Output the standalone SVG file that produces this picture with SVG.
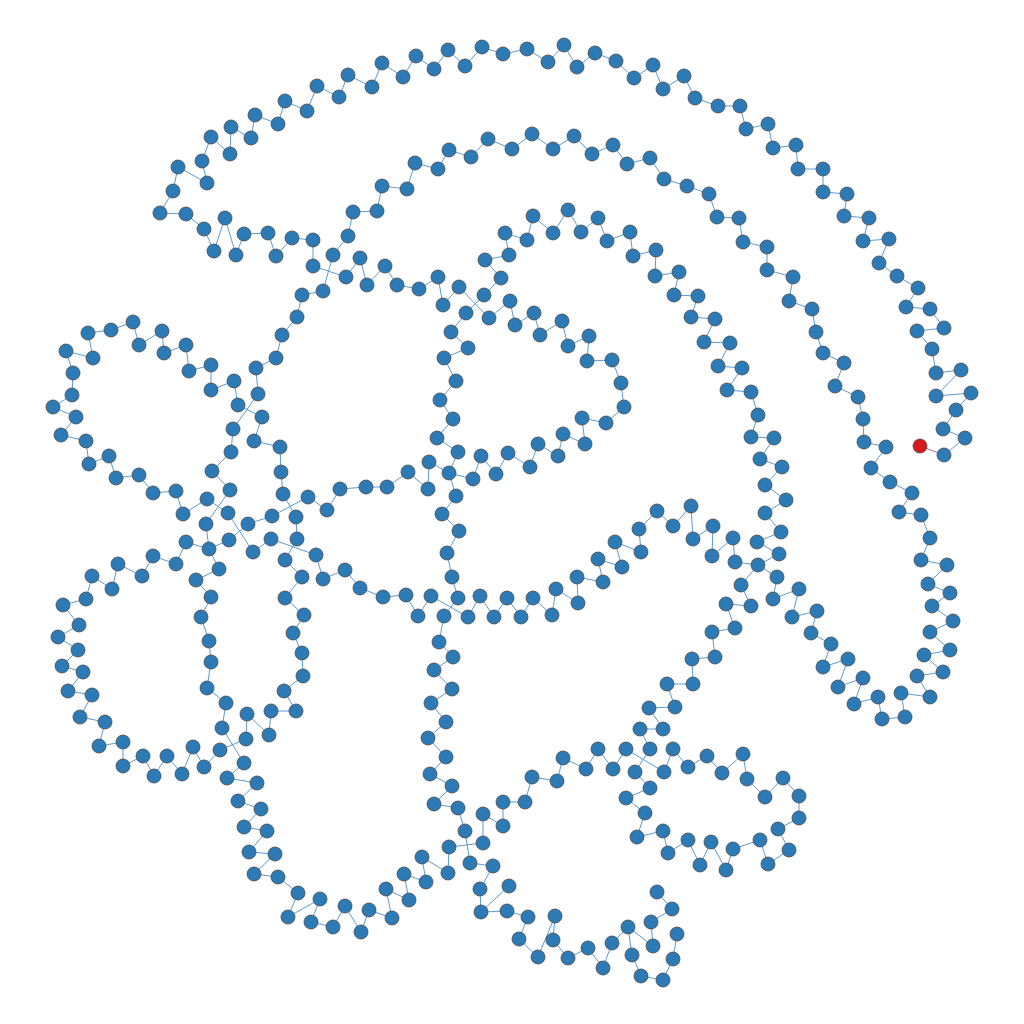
<svg xmlns="http://www.w3.org/2000/svg" width="1024" height="1024" viewBox="0 0 1024 1024">
<style>
.edges polyline,.edges line{fill:none;stroke:#5b9bd2;stroke-width:1}
.edges .hot{stroke:#a8708c}
.nodes circle{fill:#2c7bb6;stroke:#474747;stroke-width:0.8}
.nodes .red circle{fill:#d7191c}
</style>
<rect width="1024" height="1024" fill="#ffffff"/>
<g id="connectors" class="edges">
<line class="hot" x1="920" y1="446" x2="944" y2="455"/>
<polyline points="944,455 965,438 943,429 956,410 971,393 936,396 961,370 936,373 932,349 917,331 944,328 930,309 906,307 918,288 897,276 879,263 889,239 863,241 869,218 844,216 847,194 823,192 823,169 798,169 796,145 773,148 768,124 746,129 740,106 718,106 695,98 684,76 663,89 653,65 634,78 616,61 595,53 577,67 564,45 548,62 527,49 503,54 482,47 465,66 448,50 434,69 416,56 403,77 382,63 372,87 348,75 339,97 317,86 307,111 285,101 278,124 255,115 251,138 231,127 230,154 211,137 202,161 207,183 178,167 173,191 160,213 186,214 204,229 214,251 225,218 236,255 244,234 268,233 276,256 292,238 313,240 313,266 346,277 360,258 367,285 385,266 397,285 419,289 438,277 443,305 459,287 489,318 510,301 515,325 534,313 540,335 562,321 568,346 589,336 587,361 612,360 621,383 624,407 606,423 582,418 585,444 563,434 558,456 538,444 530,467 508,453 496,474 481,456 473,479 449,473"/>
<polyline points="466,313 451,332 468,348 444,358 456,381 440,400 453,419 437,438 458,452 449,473 456,496 442,514 459,531 447,553 452,577 458,598 444,616 439,642 453,657 434,670 452,689 431,703 446,722 428,738 446,757 430,774 452,786 434,804 458,808 465,831 470,863 493,866 480,889 481,912 507,911 528,917 519,939 538,957 555,916 553,940 568,958 588,948 603,968 612,943 628,927 653,946 651,922 672,909 657,892"/>
<polyline points="628,927 632,955 641,976 663,980 673,959 677,934"/>
<polyline points="481,912 509,886"/>
<polyline points="466,313 484,295 501,278 485,260 509,255 505,233 527,240 533,216 553,233 568,210 581,232 598,218 607,241 630,232 633,256 656,250 655,276 679,272 674,295 698,296 691,317 715,319 704,342 730,343 718,366 742,368 727,390 751,392 758,415 751,437 774,438 760,459 782,467 765,485 786,500 765,513 781,532 757,542 779,554 758,565 777,577 773,599 799,589 792,617 817,611 811,633 831,644 823,667 848,659 838,687 863,678 854,704 878,697 882,719 905,717 901,693 930,697 917,676 943,672 924,655 950,650 930,632 953,621 932,606 950,593 928,584 947,565 921,560 930,538 921,515 899,512 912,493 890,482 871,468 886,447 864,442 863,419 858,397 835,386 844,363 823,353 816,332 812,309 789,301 793,277 767,270 767,247 743,242 739,218 717,217 709,194 687,186 664,179 650,158 627,164 613,145 592,154 574,136 553,149 532,134 512,149 488,139 471,157 449,150 438,169 415,163 407,189 382,186 377,211 353,212 348,236 333,255 323,291 302,295 297,317 282,335 276,358 256,368 258,394 233,429 231,452 212,471 230,490 206,524 209,549 219,569 196,580 211,597 201,617 209,641 211,662 207,688 226,703 222,728 244,763 227,778 257,783 238,801 261,809 244,827 267,831 249,852 275,854 254,874 278,877 298,893 288,917 320,899 311,922 333,927 345,906 361,932 369,910 392,918 386,889 409,900 404,874 426,882 422,857 448,873 449,847 483,843 483,814 503,826 503,802 525,802 532,777 557,781 563,758 586,769 598,749 613,769 626,749 664,772 673,749 688,767 707,756 722,773 743,754 747,779 765,797 783,778 799,796 799,818 778,829 789,850 768,864 760,840 733,849 726,870 711,842 700,865 688,840 668,853 663,831 637,837 645,813 626,798 650,788 635,772 650,749 640,729 663,729 649,708 675,707 667,684 693,684 692,659 715,657 712,632 735,628 726,604 751,606 741,585 758,565"/>
<polyline points="88,333 111,330 133,322 139,345 162,331 164,353 186,345 189,371 211,365 211,390 234,381 238,405 262,417 254,441 280,447 281,472 283,494 296,517 297,539 285,560 302,577 285,598 304,615 293,633 302,653 303,676 284,691 296,711 271,711 269,735 247,714 246,739 220,750 204,767 193,747 182,774 167,756 154,776 143,756 123,766 123,742 99,746 105,722 80,717 92,695 68,691 83,672 62,666 78,650 58,637 79,625 63,605 86,599 92,576 112,589 118,564 142,576 153,556 176,564 186,542 209,549 229,540 248,524 272,516 308,497 327,510 340,489 366,487 387,487 408,472 428,489 429,462 449,473"/>
<polyline points="88,333 93,358 66,351 73,373 72,395 53,407 76,417 61,435 86,441 89,464 109,456 116,478 139,475 153,493 176,491 183,514 207,499 228,513 253,552 271,539 316,555 323,579 345,570 360,588 383,597 406,595 418,616 431,596 468,617 480,596 494,617 507,598 521,617 533,598 552,615 556,589 578,603 577,577 603,582 598,559 622,567 615,542 641,552 639,529 657,511 673,526 691,506 693,539 713,526 712,556 733,538 735,562 758,565"/>
</g>
<g id="nodes" class="nodes">
<g id="n0" class="red"><circle cx="920" cy="446" r="7"/></g>
<g id="n1"><circle cx="944" cy="455" r="7"/></g>
<g id="n2"><circle cx="965" cy="438" r="7"/></g>
<g id="n3"><circle cx="943" cy="429" r="7"/></g>
<g id="n4"><circle cx="956" cy="410" r="7"/></g>
<g id="n5"><circle cx="971" cy="393" r="7"/></g>
<g id="n6"><circle cx="936" cy="396" r="7"/></g>
<g id="n7"><circle cx="961" cy="370" r="7"/></g>
<g id="n8"><circle cx="936" cy="373" r="7"/></g>
<g id="n9"><circle cx="932" cy="349" r="7"/></g>
<g id="n10"><circle cx="917" cy="331" r="7"/></g>
<g id="n11"><circle cx="944" cy="328" r="7"/></g>
<g id="n12"><circle cx="930" cy="309" r="7"/></g>
<g id="n13"><circle cx="906" cy="307" r="7"/></g>
<g id="n14"><circle cx="918" cy="288" r="7"/></g>
<g id="n15"><circle cx="897" cy="276" r="7"/></g>
<g id="n16"><circle cx="879" cy="263" r="7"/></g>
<g id="n17"><circle cx="889" cy="239" r="7"/></g>
<g id="n18"><circle cx="863" cy="241" r="7"/></g>
<g id="n19"><circle cx="869" cy="218" r="7"/></g>
<g id="n20"><circle cx="844" cy="216" r="7"/></g>
<g id="n21"><circle cx="847" cy="194" r="7"/></g>
<g id="n22"><circle cx="823" cy="192" r="7"/></g>
<g id="n23"><circle cx="823" cy="169" r="7"/></g>
<g id="n24"><circle cx="798" cy="169" r="7"/></g>
<g id="n25"><circle cx="796" cy="145" r="7"/></g>
<g id="n26"><circle cx="773" cy="148" r="7"/></g>
<g id="n27"><circle cx="768" cy="124" r="7"/></g>
<g id="n28"><circle cx="746" cy="129" r="7"/></g>
<g id="n29"><circle cx="740" cy="106" r="7"/></g>
<g id="n30"><circle cx="718" cy="106" r="7"/></g>
<g id="n31"><circle cx="695" cy="98" r="7"/></g>
<g id="n32"><circle cx="684" cy="76" r="7"/></g>
<g id="n33"><circle cx="663" cy="89" r="7"/></g>
<g id="n34"><circle cx="653" cy="65" r="7"/></g>
<g id="n35"><circle cx="634" cy="78" r="7"/></g>
<g id="n36"><circle cx="616" cy="61" r="7"/></g>
<g id="n37"><circle cx="595" cy="53" r="7"/></g>
<g id="n38"><circle cx="577" cy="67" r="7"/></g>
<g id="n39"><circle cx="564" cy="45" r="7"/></g>
<g id="n40"><circle cx="548" cy="62" r="7"/></g>
<g id="n41"><circle cx="527" cy="49" r="7"/></g>
<g id="n42"><circle cx="503" cy="54" r="7"/></g>
<g id="n43"><circle cx="482" cy="47" r="7"/></g>
<g id="n44"><circle cx="465" cy="66" r="7"/></g>
<g id="n45"><circle cx="448" cy="50" r="7"/></g>
<g id="n46"><circle cx="434" cy="69" r="7"/></g>
<g id="n47"><circle cx="416" cy="56" r="7"/></g>
<g id="n48"><circle cx="403" cy="77" r="7"/></g>
<g id="n49"><circle cx="382" cy="63" r="7"/></g>
<g id="n50"><circle cx="372" cy="87" r="7"/></g>
<g id="n51"><circle cx="348" cy="75" r="7"/></g>
<g id="n52"><circle cx="339" cy="97" r="7"/></g>
<g id="n53"><circle cx="317" cy="86" r="7"/></g>
<g id="n54"><circle cx="307" cy="111" r="7"/></g>
<g id="n55"><circle cx="285" cy="101" r="7"/></g>
<g id="n56"><circle cx="278" cy="124" r="7"/></g>
<g id="n57"><circle cx="255" cy="115" r="7"/></g>
<g id="n58"><circle cx="251" cy="138" r="7"/></g>
<g id="n59"><circle cx="231" cy="127" r="7"/></g>
<g id="n60"><circle cx="230" cy="154" r="7"/></g>
<g id="n61"><circle cx="211" cy="137" r="7"/></g>
<g id="n62"><circle cx="202" cy="161" r="7"/></g>
<g id="n63"><circle cx="207" cy="183" r="7"/></g>
<g id="n64"><circle cx="178" cy="167" r="7"/></g>
<g id="n65"><circle cx="173" cy="191" r="7"/></g>
<g id="n66"><circle cx="160" cy="213" r="7"/></g>
<g id="n67"><circle cx="186" cy="214" r="7"/></g>
<g id="n68"><circle cx="204" cy="229" r="7"/></g>
<g id="n69"><circle cx="214" cy="251" r="7"/></g>
<g id="n70"><circle cx="225" cy="218" r="7"/></g>
<g id="n71"><circle cx="236" cy="255" r="7"/></g>
<g id="n72"><circle cx="244" cy="234" r="7"/></g>
<g id="n73"><circle cx="268" cy="233" r="7"/></g>
<g id="n74"><circle cx="276" cy="256" r="7"/></g>
<g id="n75"><circle cx="292" cy="238" r="7"/></g>
<g id="n76"><circle cx="313" cy="240" r="7"/></g>
<g id="n77"><circle cx="313" cy="266" r="7"/></g>
<g id="n78"><circle cx="346" cy="277" r="7"/></g>
<g id="n79"><circle cx="360" cy="258" r="7"/></g>
<g id="n80"><circle cx="367" cy="285" r="7"/></g>
<g id="n81"><circle cx="385" cy="266" r="7"/></g>
<g id="n82"><circle cx="397" cy="285" r="7"/></g>
<g id="n83"><circle cx="419" cy="289" r="7"/></g>
<g id="n84"><circle cx="438" cy="277" r="7"/></g>
<g id="n85"><circle cx="443" cy="305" r="7"/></g>
<g id="n86"><circle cx="459" cy="287" r="7"/></g>
<g id="n87"><circle cx="489" cy="318" r="7"/></g>
<g id="n88"><circle cx="510" cy="301" r="7"/></g>
<g id="n89"><circle cx="515" cy="325" r="7"/></g>
<g id="n90"><circle cx="534" cy="313" r="7"/></g>
<g id="n91"><circle cx="540" cy="335" r="7"/></g>
<g id="n92"><circle cx="562" cy="321" r="7"/></g>
<g id="n93"><circle cx="568" cy="346" r="7"/></g>
<g id="n94"><circle cx="589" cy="336" r="7"/></g>
<g id="n95"><circle cx="587" cy="361" r="7"/></g>
<g id="n96"><circle cx="612" cy="360" r="7"/></g>
<g id="n97"><circle cx="621" cy="383" r="7"/></g>
<g id="n98"><circle cx="624" cy="407" r="7"/></g>
<g id="n99"><circle cx="606" cy="423" r="7"/></g>
<g id="n100"><circle cx="582" cy="418" r="7"/></g>
<g id="n101"><circle cx="585" cy="444" r="7"/></g>
<g id="n102"><circle cx="563" cy="434" r="7"/></g>
<g id="n103"><circle cx="558" cy="456" r="7"/></g>
<g id="n104"><circle cx="538" cy="444" r="7"/></g>
<g id="n105"><circle cx="530" cy="467" r="7"/></g>
<g id="n106"><circle cx="508" cy="453" r="7"/></g>
<g id="n107"><circle cx="496" cy="474" r="7"/></g>
<g id="n108"><circle cx="481" cy="456" r="7"/></g>
<g id="n109"><circle cx="473" cy="479" r="7"/></g>
<g id="n110"><circle cx="449" cy="473" r="7"/></g>
<g id="n111"><circle cx="466" cy="313" r="7"/></g>
<g id="n112"><circle cx="451" cy="332" r="7"/></g>
<g id="n113"><circle cx="468" cy="348" r="7"/></g>
<g id="n114"><circle cx="444" cy="358" r="7"/></g>
<g id="n115"><circle cx="456" cy="381" r="7"/></g>
<g id="n116"><circle cx="440" cy="400" r="7"/></g>
<g id="n117"><circle cx="453" cy="419" r="7"/></g>
<g id="n118"><circle cx="437" cy="438" r="7"/></g>
<g id="n119"><circle cx="458" cy="452" r="7"/></g>
<g id="n120"><circle cx="456" cy="496" r="7"/></g>
<g id="n121"><circle cx="442" cy="514" r="7"/></g>
<g id="n122"><circle cx="459" cy="531" r="7"/></g>
<g id="n123"><circle cx="447" cy="553" r="7"/></g>
<g id="n124"><circle cx="452" cy="577" r="7"/></g>
<g id="n125"><circle cx="458" cy="598" r="7"/></g>
<g id="n126"><circle cx="444" cy="616" r="7"/></g>
<g id="n127"><circle cx="439" cy="642" r="7"/></g>
<g id="n128"><circle cx="453" cy="657" r="7"/></g>
<g id="n129"><circle cx="434" cy="670" r="7"/></g>
<g id="n130"><circle cx="452" cy="689" r="7"/></g>
<g id="n131"><circle cx="431" cy="703" r="7"/></g>
<g id="n132"><circle cx="446" cy="722" r="7"/></g>
<g id="n133"><circle cx="428" cy="738" r="7"/></g>
<g id="n134"><circle cx="446" cy="757" r="7"/></g>
<g id="n135"><circle cx="430" cy="774" r="7"/></g>
<g id="n136"><circle cx="452" cy="786" r="7"/></g>
<g id="n137"><circle cx="434" cy="804" r="7"/></g>
<g id="n138"><circle cx="458" cy="808" r="7"/></g>
<g id="n139"><circle cx="465" cy="831" r="7"/></g>
<g id="n140"><circle cx="470" cy="863" r="7"/></g>
<g id="n141"><circle cx="493" cy="866" r="7"/></g>
<g id="n142"><circle cx="480" cy="889" r="7"/></g>
<g id="n143"><circle cx="481" cy="912" r="7"/></g>
<g id="n144"><circle cx="507" cy="911" r="7"/></g>
<g id="n145"><circle cx="528" cy="917" r="7"/></g>
<g id="n146"><circle cx="519" cy="939" r="7"/></g>
<g id="n147"><circle cx="538" cy="957" r="7"/></g>
<g id="n148"><circle cx="555" cy="916" r="7"/></g>
<g id="n149"><circle cx="553" cy="940" r="7"/></g>
<g id="n150"><circle cx="568" cy="958" r="7"/></g>
<g id="n151"><circle cx="588" cy="948" r="7"/></g>
<g id="n152"><circle cx="603" cy="968" r="7"/></g>
<g id="n153"><circle cx="612" cy="943" r="7"/></g>
<g id="n154"><circle cx="628" cy="927" r="7"/></g>
<g id="n155"><circle cx="653" cy="946" r="7"/></g>
<g id="n156"><circle cx="651" cy="922" r="7"/></g>
<g id="n157"><circle cx="672" cy="909" r="7"/></g>
<g id="n158"><circle cx="657" cy="892" r="7"/></g>
<g id="n159"><circle cx="632" cy="955" r="7"/></g>
<g id="n160"><circle cx="641" cy="976" r="7"/></g>
<g id="n161"><circle cx="663" cy="980" r="7"/></g>
<g id="n162"><circle cx="673" cy="959" r="7"/></g>
<g id="n163"><circle cx="677" cy="934" r="7"/></g>
<g id="n164"><circle cx="509" cy="886" r="7"/></g>
<g id="n165"><circle cx="484" cy="295" r="7"/></g>
<g id="n166"><circle cx="501" cy="278" r="7"/></g>
<g id="n167"><circle cx="485" cy="260" r="7"/></g>
<g id="n168"><circle cx="509" cy="255" r="7"/></g>
<g id="n169"><circle cx="505" cy="233" r="7"/></g>
<g id="n170"><circle cx="527" cy="240" r="7"/></g>
<g id="n171"><circle cx="533" cy="216" r="7"/></g>
<g id="n172"><circle cx="553" cy="233" r="7"/></g>
<g id="n173"><circle cx="568" cy="210" r="7"/></g>
<g id="n174"><circle cx="581" cy="232" r="7"/></g>
<g id="n175"><circle cx="598" cy="218" r="7"/></g>
<g id="n176"><circle cx="607" cy="241" r="7"/></g>
<g id="n177"><circle cx="630" cy="232" r="7"/></g>
<g id="n178"><circle cx="633" cy="256" r="7"/></g>
<g id="n179"><circle cx="656" cy="250" r="7"/></g>
<g id="n180"><circle cx="655" cy="276" r="7"/></g>
<g id="n181"><circle cx="679" cy="272" r="7"/></g>
<g id="n182"><circle cx="674" cy="295" r="7"/></g>
<g id="n183"><circle cx="698" cy="296" r="7"/></g>
<g id="n184"><circle cx="691" cy="317" r="7"/></g>
<g id="n185"><circle cx="715" cy="319" r="7"/></g>
<g id="n186"><circle cx="704" cy="342" r="7"/></g>
<g id="n187"><circle cx="730" cy="343" r="7"/></g>
<g id="n188"><circle cx="718" cy="366" r="7"/></g>
<g id="n189"><circle cx="742" cy="368" r="7"/></g>
<g id="n190"><circle cx="727" cy="390" r="7"/></g>
<g id="n191"><circle cx="751" cy="392" r="7"/></g>
<g id="n192"><circle cx="758" cy="415" r="7"/></g>
<g id="n193"><circle cx="751" cy="437" r="7"/></g>
<g id="n194"><circle cx="774" cy="438" r="7"/></g>
<g id="n195"><circle cx="760" cy="459" r="7"/></g>
<g id="n196"><circle cx="782" cy="467" r="7"/></g>
<g id="n197"><circle cx="765" cy="485" r="7"/></g>
<g id="n198"><circle cx="786" cy="500" r="7"/></g>
<g id="n199"><circle cx="765" cy="513" r="7"/></g>
<g id="n200"><circle cx="781" cy="532" r="7"/></g>
<g id="n201"><circle cx="757" cy="542" r="7"/></g>
<g id="n202"><circle cx="779" cy="554" r="7"/></g>
<g id="n203"><circle cx="758" cy="565" r="7"/></g>
<g id="n204"><circle cx="777" cy="577" r="7"/></g>
<g id="n205"><circle cx="773" cy="599" r="7"/></g>
<g id="n206"><circle cx="799" cy="589" r="7"/></g>
<g id="n207"><circle cx="792" cy="617" r="7"/></g>
<g id="n208"><circle cx="817" cy="611" r="7"/></g>
<g id="n209"><circle cx="811" cy="633" r="7"/></g>
<g id="n210"><circle cx="831" cy="644" r="7"/></g>
<g id="n211"><circle cx="823" cy="667" r="7"/></g>
<g id="n212"><circle cx="848" cy="659" r="7"/></g>
<g id="n213"><circle cx="838" cy="687" r="7"/></g>
<g id="n214"><circle cx="863" cy="678" r="7"/></g>
<g id="n215"><circle cx="854" cy="704" r="7"/></g>
<g id="n216"><circle cx="878" cy="697" r="7"/></g>
<g id="n217"><circle cx="882" cy="719" r="7"/></g>
<g id="n218"><circle cx="905" cy="717" r="7"/></g>
<g id="n219"><circle cx="901" cy="693" r="7"/></g>
<g id="n220"><circle cx="930" cy="697" r="7"/></g>
<g id="n221"><circle cx="917" cy="676" r="7"/></g>
<g id="n222"><circle cx="943" cy="672" r="7"/></g>
<g id="n223"><circle cx="924" cy="655" r="7"/></g>
<g id="n224"><circle cx="950" cy="650" r="7"/></g>
<g id="n225"><circle cx="930" cy="632" r="7"/></g>
<g id="n226"><circle cx="953" cy="621" r="7"/></g>
<g id="n227"><circle cx="932" cy="606" r="7"/></g>
<g id="n228"><circle cx="950" cy="593" r="7"/></g>
<g id="n229"><circle cx="928" cy="584" r="7"/></g>
<g id="n230"><circle cx="947" cy="565" r="7"/></g>
<g id="n231"><circle cx="921" cy="560" r="7"/></g>
<g id="n232"><circle cx="930" cy="538" r="7"/></g>
<g id="n233"><circle cx="921" cy="515" r="7"/></g>
<g id="n234"><circle cx="899" cy="512" r="7"/></g>
<g id="n235"><circle cx="912" cy="493" r="7"/></g>
<g id="n236"><circle cx="890" cy="482" r="7"/></g>
<g id="n237"><circle cx="871" cy="468" r="7"/></g>
<g id="n238"><circle cx="886" cy="447" r="7"/></g>
<g id="n239"><circle cx="864" cy="442" r="7"/></g>
<g id="n240"><circle cx="863" cy="419" r="7"/></g>
<g id="n241"><circle cx="858" cy="397" r="7"/></g>
<g id="n242"><circle cx="835" cy="386" r="7"/></g>
<g id="n243"><circle cx="844" cy="363" r="7"/></g>
<g id="n244"><circle cx="823" cy="353" r="7"/></g>
<g id="n245"><circle cx="816" cy="332" r="7"/></g>
<g id="n246"><circle cx="812" cy="309" r="7"/></g>
<g id="n247"><circle cx="789" cy="301" r="7"/></g>
<g id="n248"><circle cx="793" cy="277" r="7"/></g>
<g id="n249"><circle cx="767" cy="270" r="7"/></g>
<g id="n250"><circle cx="767" cy="247" r="7"/></g>
<g id="n251"><circle cx="743" cy="242" r="7"/></g>
<g id="n252"><circle cx="739" cy="218" r="7"/></g>
<g id="n253"><circle cx="717" cy="217" r="7"/></g>
<g id="n254"><circle cx="709" cy="194" r="7"/></g>
<g id="n255"><circle cx="687" cy="186" r="7"/></g>
<g id="n256"><circle cx="664" cy="179" r="7"/></g>
<g id="n257"><circle cx="650" cy="158" r="7"/></g>
<g id="n258"><circle cx="627" cy="164" r="7"/></g>
<g id="n259"><circle cx="613" cy="145" r="7"/></g>
<g id="n260"><circle cx="592" cy="154" r="7"/></g>
<g id="n261"><circle cx="574" cy="136" r="7"/></g>
<g id="n262"><circle cx="553" cy="149" r="7"/></g>
<g id="n263"><circle cx="532" cy="134" r="7"/></g>
<g id="n264"><circle cx="512" cy="149" r="7"/></g>
<g id="n265"><circle cx="488" cy="139" r="7"/></g>
<g id="n266"><circle cx="471" cy="157" r="7"/></g>
<g id="n267"><circle cx="449" cy="150" r="7"/></g>
<g id="n268"><circle cx="438" cy="169" r="7"/></g>
<g id="n269"><circle cx="415" cy="163" r="7"/></g>
<g id="n270"><circle cx="407" cy="189" r="7"/></g>
<g id="n271"><circle cx="382" cy="186" r="7"/></g>
<g id="n272"><circle cx="377" cy="211" r="7"/></g>
<g id="n273"><circle cx="353" cy="212" r="7"/></g>
<g id="n274"><circle cx="348" cy="236" r="7"/></g>
<g id="n275"><circle cx="333" cy="255" r="7"/></g>
<g id="n276"><circle cx="323" cy="291" r="7"/></g>
<g id="n277"><circle cx="302" cy="295" r="7"/></g>
<g id="n278"><circle cx="297" cy="317" r="7"/></g>
<g id="n279"><circle cx="282" cy="335" r="7"/></g>
<g id="n280"><circle cx="276" cy="358" r="7"/></g>
<g id="n281"><circle cx="256" cy="368" r="7"/></g>
<g id="n282"><circle cx="258" cy="394" r="7"/></g>
<g id="n283"><circle cx="233" cy="429" r="7"/></g>
<g id="n284"><circle cx="231" cy="452" r="7"/></g>
<g id="n285"><circle cx="212" cy="471" r="7"/></g>
<g id="n286"><circle cx="230" cy="490" r="7"/></g>
<g id="n287"><circle cx="206" cy="524" r="7"/></g>
<g id="n288"><circle cx="209" cy="549" r="7"/></g>
<g id="n289"><circle cx="219" cy="569" r="7"/></g>
<g id="n290"><circle cx="196" cy="580" r="7"/></g>
<g id="n291"><circle cx="211" cy="597" r="7"/></g>
<g id="n292"><circle cx="201" cy="617" r="7"/></g>
<g id="n293"><circle cx="209" cy="641" r="7"/></g>
<g id="n294"><circle cx="211" cy="662" r="7"/></g>
<g id="n295"><circle cx="207" cy="688" r="7"/></g>
<g id="n296"><circle cx="226" cy="703" r="7"/></g>
<g id="n297"><circle cx="222" cy="728" r="7"/></g>
<g id="n298"><circle cx="244" cy="763" r="7"/></g>
<g id="n299"><circle cx="227" cy="778" r="7"/></g>
<g id="n300"><circle cx="257" cy="783" r="7"/></g>
<g id="n301"><circle cx="238" cy="801" r="7"/></g>
<g id="n302"><circle cx="261" cy="809" r="7"/></g>
<g id="n303"><circle cx="244" cy="827" r="7"/></g>
<g id="n304"><circle cx="267" cy="831" r="7"/></g>
<g id="n305"><circle cx="249" cy="852" r="7"/></g>
<g id="n306"><circle cx="275" cy="854" r="7"/></g>
<g id="n307"><circle cx="254" cy="874" r="7"/></g>
<g id="n308"><circle cx="278" cy="877" r="7"/></g>
<g id="n309"><circle cx="298" cy="893" r="7"/></g>
<g id="n310"><circle cx="288" cy="917" r="7"/></g>
<g id="n311"><circle cx="320" cy="899" r="7"/></g>
<g id="n312"><circle cx="311" cy="922" r="7"/></g>
<g id="n313"><circle cx="333" cy="927" r="7"/></g>
<g id="n314"><circle cx="345" cy="906" r="7"/></g>
<g id="n315"><circle cx="361" cy="932" r="7"/></g>
<g id="n316"><circle cx="369" cy="910" r="7"/></g>
<g id="n317"><circle cx="392" cy="918" r="7"/></g>
<g id="n318"><circle cx="386" cy="889" r="7"/></g>
<g id="n319"><circle cx="409" cy="900" r="7"/></g>
<g id="n320"><circle cx="404" cy="874" r="7"/></g>
<g id="n321"><circle cx="426" cy="882" r="7"/></g>
<g id="n322"><circle cx="422" cy="857" r="7"/></g>
<g id="n323"><circle cx="448" cy="873" r="7"/></g>
<g id="n324"><circle cx="449" cy="847" r="7"/></g>
<g id="n325"><circle cx="483" cy="843" r="7"/></g>
<g id="n326"><circle cx="483" cy="814" r="7"/></g>
<g id="n327"><circle cx="503" cy="826" r="7"/></g>
<g id="n328"><circle cx="503" cy="802" r="7"/></g>
<g id="n329"><circle cx="525" cy="802" r="7"/></g>
<g id="n330"><circle cx="532" cy="777" r="7"/></g>
<g id="n331"><circle cx="557" cy="781" r="7"/></g>
<g id="n332"><circle cx="563" cy="758" r="7"/></g>
<g id="n333"><circle cx="586" cy="769" r="7"/></g>
<g id="n334"><circle cx="598" cy="749" r="7"/></g>
<g id="n335"><circle cx="613" cy="769" r="7"/></g>
<g id="n336"><circle cx="626" cy="749" r="7"/></g>
<g id="n337"><circle cx="664" cy="772" r="7"/></g>
<g id="n338"><circle cx="673" cy="749" r="7"/></g>
<g id="n339"><circle cx="688" cy="767" r="7"/></g>
<g id="n340"><circle cx="707" cy="756" r="7"/></g>
<g id="n341"><circle cx="722" cy="773" r="7"/></g>
<g id="n342"><circle cx="743" cy="754" r="7"/></g>
<g id="n343"><circle cx="747" cy="779" r="7"/></g>
<g id="n344"><circle cx="765" cy="797" r="7"/></g>
<g id="n345"><circle cx="783" cy="778" r="7"/></g>
<g id="n346"><circle cx="799" cy="796" r="7"/></g>
<g id="n347"><circle cx="799" cy="818" r="7"/></g>
<g id="n348"><circle cx="778" cy="829" r="7"/></g>
<g id="n349"><circle cx="789" cy="850" r="7"/></g>
<g id="n350"><circle cx="768" cy="864" r="7"/></g>
<g id="n351"><circle cx="760" cy="840" r="7"/></g>
<g id="n352"><circle cx="733" cy="849" r="7"/></g>
<g id="n353"><circle cx="726" cy="870" r="7"/></g>
<g id="n354"><circle cx="711" cy="842" r="7"/></g>
<g id="n355"><circle cx="700" cy="865" r="7"/></g>
<g id="n356"><circle cx="688" cy="840" r="7"/></g>
<g id="n357"><circle cx="668" cy="853" r="7"/></g>
<g id="n358"><circle cx="663" cy="831" r="7"/></g>
<g id="n359"><circle cx="637" cy="837" r="7"/></g>
<g id="n360"><circle cx="645" cy="813" r="7"/></g>
<g id="n361"><circle cx="626" cy="798" r="7"/></g>
<g id="n362"><circle cx="650" cy="788" r="7"/></g>
<g id="n363"><circle cx="635" cy="772" r="7"/></g>
<g id="n364"><circle cx="650" cy="749" r="7"/></g>
<g id="n365"><circle cx="640" cy="729" r="7"/></g>
<g id="n366"><circle cx="663" cy="729" r="7"/></g>
<g id="n367"><circle cx="649" cy="708" r="7"/></g>
<g id="n368"><circle cx="675" cy="707" r="7"/></g>
<g id="n369"><circle cx="667" cy="684" r="7"/></g>
<g id="n370"><circle cx="693" cy="684" r="7"/></g>
<g id="n371"><circle cx="692" cy="659" r="7"/></g>
<g id="n372"><circle cx="715" cy="657" r="7"/></g>
<g id="n373"><circle cx="712" cy="632" r="7"/></g>
<g id="n374"><circle cx="735" cy="628" r="7"/></g>
<g id="n375"><circle cx="726" cy="604" r="7"/></g>
<g id="n376"><circle cx="751" cy="606" r="7"/></g>
<g id="n377"><circle cx="741" cy="585" r="7"/></g>
<g id="n378"><circle cx="88" cy="333" r="7"/></g>
<g id="n379"><circle cx="111" cy="330" r="7"/></g>
<g id="n380"><circle cx="133" cy="322" r="7"/></g>
<g id="n381"><circle cx="139" cy="345" r="7"/></g>
<g id="n382"><circle cx="162" cy="331" r="7"/></g>
<g id="n383"><circle cx="164" cy="353" r="7"/></g>
<g id="n384"><circle cx="186" cy="345" r="7"/></g>
<g id="n385"><circle cx="189" cy="371" r="7"/></g>
<g id="n386"><circle cx="211" cy="365" r="7"/></g>
<g id="n387"><circle cx="211" cy="390" r="7"/></g>
<g id="n388"><circle cx="234" cy="381" r="7"/></g>
<g id="n389"><circle cx="238" cy="405" r="7"/></g>
<g id="n390"><circle cx="262" cy="417" r="7"/></g>
<g id="n391"><circle cx="254" cy="441" r="7"/></g>
<g id="n392"><circle cx="280" cy="447" r="7"/></g>
<g id="n393"><circle cx="281" cy="472" r="7"/></g>
<g id="n394"><circle cx="283" cy="494" r="7"/></g>
<g id="n395"><circle cx="296" cy="517" r="7"/></g>
<g id="n396"><circle cx="297" cy="539" r="7"/></g>
<g id="n397"><circle cx="285" cy="560" r="7"/></g>
<g id="n398"><circle cx="302" cy="577" r="7"/></g>
<g id="n399"><circle cx="285" cy="598" r="7"/></g>
<g id="n400"><circle cx="304" cy="615" r="7"/></g>
<g id="n401"><circle cx="293" cy="633" r="7"/></g>
<g id="n402"><circle cx="302" cy="653" r="7"/></g>
<g id="n403"><circle cx="303" cy="676" r="7"/></g>
<g id="n404"><circle cx="284" cy="691" r="7"/></g>
<g id="n405"><circle cx="296" cy="711" r="7"/></g>
<g id="n406"><circle cx="271" cy="711" r="7"/></g>
<g id="n407"><circle cx="269" cy="735" r="7"/></g>
<g id="n408"><circle cx="247" cy="714" r="7"/></g>
<g id="n409"><circle cx="246" cy="739" r="7"/></g>
<g id="n410"><circle cx="220" cy="750" r="7"/></g>
<g id="n411"><circle cx="204" cy="767" r="7"/></g>
<g id="n412"><circle cx="193" cy="747" r="7"/></g>
<g id="n413"><circle cx="182" cy="774" r="7"/></g>
<g id="n414"><circle cx="167" cy="756" r="7"/></g>
<g id="n415"><circle cx="154" cy="776" r="7"/></g>
<g id="n416"><circle cx="143" cy="756" r="7"/></g>
<g id="n417"><circle cx="123" cy="766" r="7"/></g>
<g id="n418"><circle cx="123" cy="742" r="7"/></g>
<g id="n419"><circle cx="99" cy="746" r="7"/></g>
<g id="n420"><circle cx="105" cy="722" r="7"/></g>
<g id="n421"><circle cx="80" cy="717" r="7"/></g>
<g id="n422"><circle cx="92" cy="695" r="7"/></g>
<g id="n423"><circle cx="68" cy="691" r="7"/></g>
<g id="n424"><circle cx="83" cy="672" r="7"/></g>
<g id="n425"><circle cx="62" cy="666" r="7"/></g>
<g id="n426"><circle cx="78" cy="650" r="7"/></g>
<g id="n427"><circle cx="58" cy="637" r="7"/></g>
<g id="n428"><circle cx="79" cy="625" r="7"/></g>
<g id="n429"><circle cx="63" cy="605" r="7"/></g>
<g id="n430"><circle cx="86" cy="599" r="7"/></g>
<g id="n431"><circle cx="92" cy="576" r="7"/></g>
<g id="n432"><circle cx="112" cy="589" r="7"/></g>
<g id="n433"><circle cx="118" cy="564" r="7"/></g>
<g id="n434"><circle cx="142" cy="576" r="7"/></g>
<g id="n435"><circle cx="153" cy="556" r="7"/></g>
<g id="n436"><circle cx="176" cy="564" r="7"/></g>
<g id="n437"><circle cx="186" cy="542" r="7"/></g>
<g id="n438"><circle cx="229" cy="540" r="7"/></g>
<g id="n439"><circle cx="248" cy="524" r="7"/></g>
<g id="n440"><circle cx="272" cy="516" r="7"/></g>
<g id="n441"><circle cx="308" cy="497" r="7"/></g>
<g id="n442"><circle cx="327" cy="510" r="7"/></g>
<g id="n443"><circle cx="340" cy="489" r="7"/></g>
<g id="n444"><circle cx="366" cy="487" r="7"/></g>
<g id="n445"><circle cx="387" cy="487" r="7"/></g>
<g id="n446"><circle cx="408" cy="472" r="7"/></g>
<g id="n447"><circle cx="428" cy="489" r="7"/></g>
<g id="n448"><circle cx="429" cy="462" r="7"/></g>
<g id="n449"><circle cx="93" cy="358" r="7"/></g>
<g id="n450"><circle cx="66" cy="351" r="7"/></g>
<g id="n451"><circle cx="73" cy="373" r="7"/></g>
<g id="n452"><circle cx="72" cy="395" r="7"/></g>
<g id="n453"><circle cx="53" cy="407" r="7"/></g>
<g id="n454"><circle cx="76" cy="417" r="7"/></g>
<g id="n455"><circle cx="61" cy="435" r="7"/></g>
<g id="n456"><circle cx="86" cy="441" r="7"/></g>
<g id="n457"><circle cx="89" cy="464" r="7"/></g>
<g id="n458"><circle cx="109" cy="456" r="7"/></g>
<g id="n459"><circle cx="116" cy="478" r="7"/></g>
<g id="n460"><circle cx="139" cy="475" r="7"/></g>
<g id="n461"><circle cx="153" cy="493" r="7"/></g>
<g id="n462"><circle cx="176" cy="491" r="7"/></g>
<g id="n463"><circle cx="183" cy="514" r="7"/></g>
<g id="n464"><circle cx="207" cy="499" r="7"/></g>
<g id="n465"><circle cx="228" cy="513" r="7"/></g>
<g id="n466"><circle cx="253" cy="552" r="7"/></g>
<g id="n467"><circle cx="271" cy="539" r="7"/></g>
<g id="n468"><circle cx="316" cy="555" r="7"/></g>
<g id="n469"><circle cx="323" cy="579" r="7"/></g>
<g id="n470"><circle cx="345" cy="570" r="7"/></g>
<g id="n471"><circle cx="360" cy="588" r="7"/></g>
<g id="n472"><circle cx="383" cy="597" r="7"/></g>
<g id="n473"><circle cx="406" cy="595" r="7"/></g>
<g id="n474"><circle cx="418" cy="616" r="7"/></g>
<g id="n475"><circle cx="431" cy="596" r="7"/></g>
<g id="n476"><circle cx="468" cy="617" r="7"/></g>
<g id="n477"><circle cx="480" cy="596" r="7"/></g>
<g id="n478"><circle cx="494" cy="617" r="7"/></g>
<g id="n479"><circle cx="507" cy="598" r="7"/></g>
<g id="n480"><circle cx="521" cy="617" r="7"/></g>
<g id="n481"><circle cx="533" cy="598" r="7"/></g>
<g id="n482"><circle cx="552" cy="615" r="7"/></g>
<g id="n483"><circle cx="556" cy="589" r="7"/></g>
<g id="n484"><circle cx="578" cy="603" r="7"/></g>
<g id="n485"><circle cx="577" cy="577" r="7"/></g>
<g id="n486"><circle cx="603" cy="582" r="7"/></g>
<g id="n487"><circle cx="598" cy="559" r="7"/></g>
<g id="n488"><circle cx="622" cy="567" r="7"/></g>
<g id="n489"><circle cx="615" cy="542" r="7"/></g>
<g id="n490"><circle cx="641" cy="552" r="7"/></g>
<g id="n491"><circle cx="639" cy="529" r="7"/></g>
<g id="n492"><circle cx="657" cy="511" r="7"/></g>
<g id="n493"><circle cx="673" cy="526" r="7"/></g>
<g id="n494"><circle cx="691" cy="506" r="7"/></g>
<g id="n495"><circle cx="693" cy="539" r="7"/></g>
<g id="n496"><circle cx="713" cy="526" r="7"/></g>
<g id="n497"><circle cx="712" cy="556" r="7"/></g>
<g id="n498"><circle cx="733" cy="538" r="7"/></g>
<g id="n499"><circle cx="735" cy="562" r="7"/></g>
</g>
</svg>
